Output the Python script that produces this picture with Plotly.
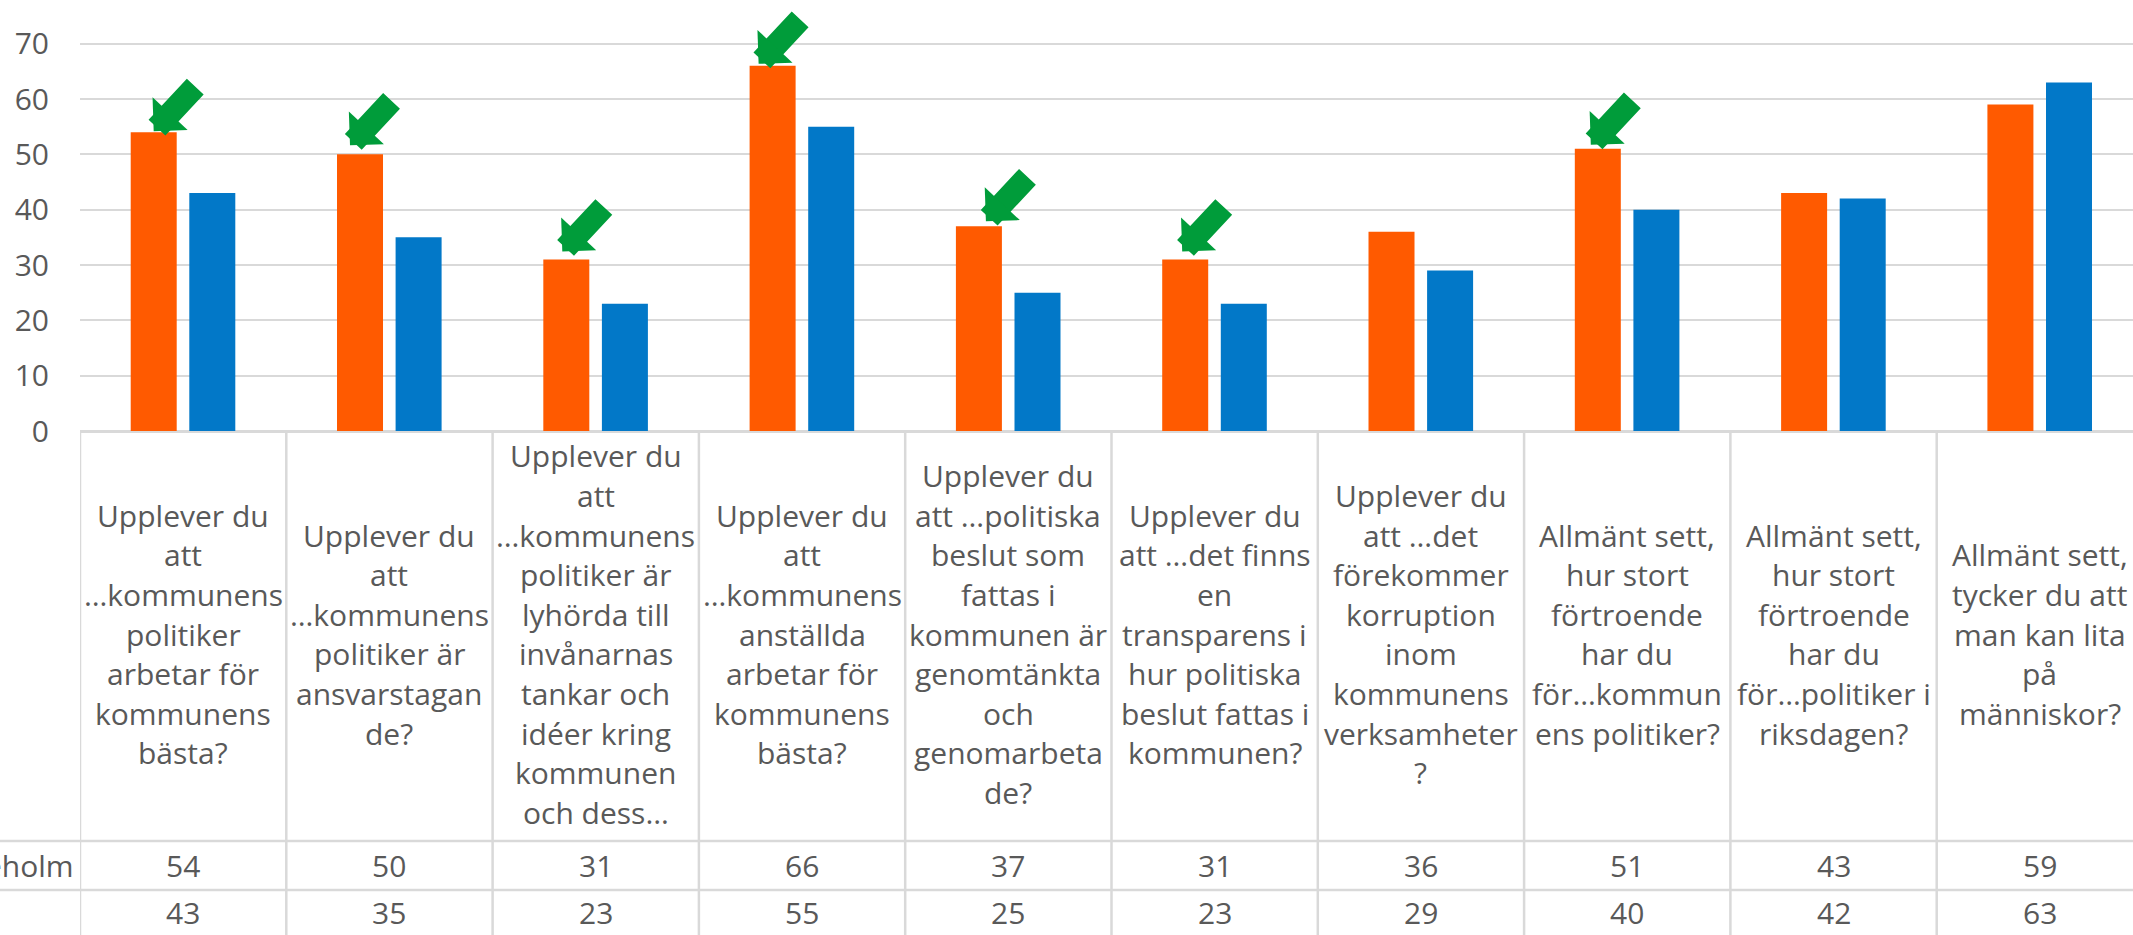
import plotly.graph_objects as go

# ---------------- data ----------------
category_labels = [
    "Upplever du<br>att<br>…kommunens<br>politiker<br>arbetar för<br>kommunens<br>bästa?",
    "Upplever du<br>att<br>…kommunens<br>politiker är<br>ansvarstagan<br>de?",
    "Upplever du<br>att<br>…kommunens<br>politiker är<br>lyhörda till<br>invånarnas<br>tankar och<br>idéer kring<br>kommunen<br>och dess…",
    "Upplever du<br>att<br>…kommunens<br>anställda<br>arbetar för<br>kommunens<br>bästa?",
    "Upplever du<br>att …politiska<br>beslut som<br>fattas i<br>kommunen är<br>genomtänkta<br>och<br>genomarbeta<br>de?",
    "Upplever du<br>att …det finns<br>en<br>transparens i<br>hur politiska<br>beslut fattas i<br>kommunen?",
    "Upplever du<br>att …det<br>förekommer<br>korruption<br>inom<br>kommunens<br>verksamheter<br>?",
    "Allmänt sett,<br>hur stort<br>förtroende<br>har du<br>för…kommun<br>ens politiker?",
    "Allmänt sett,<br>hur stort<br>förtroende<br>har du<br>för…politiker i<br>riksdagen?",
    "Allmänt sett,<br>tycker du att<br>man kan lita<br>på<br>människor?",
]
series_names = ["eholm", ""]
values_local = [54, 50, 31, 66, 37, 31, 36, 51, 43, 59]
values_other = [43, 35, 23, 55, 25, 23, 29, 40, 42, 63]
highlighted = [0, 1, 2, 3, 4, 5, 7]          # categories marked with a green arrow
y_ticks = [0, 10, 20, 30, 40, 50, 60, 70]

# ---------------- styles / geometry ----------------
W, H = 2133, 935
PLOT_L = 80          # px, left edge of plot area
PLOT_B = 431         # px, y of the zero line
CAT_W = 206.3        # px per category
PX_PER_UNIT = 5.533  # px per value unit
ORANGE = "#FF5A00"
BLUE = "#0278C8"
GREEN = "#009C3A"
GRID = "#D9D9D9"
TXT = "#595959"
FONT = "Open Sans"
FS = 30
LINE_H = 39.6
BAR_W = 0.223
OFF_A = -0.2542
OFF_B = 0.0298
LABEL_CENTER = 634
ROW_Y = [865, 912]
ROW_LINES = [841, 890]
NAME_RIGHT = 76
# per-arrow pixel placement of the tip relative to the bar's top-left corner
arrow_tip_shift = [(23, 1), (13, 9), (19, 8), (9, 2), (30, 5), (20, 8), (16, 4)]


def py2paper(py):
    return (PLOT_B - py) / PLOT_B


def px2paper(px):
    return (px - PLOT_L) / (W - PLOT_L)


n = len(category_labels)
xs = list(range(n))

fig = go.Figure()
fig.add_trace(go.Bar(x=xs, y=values_local, width=BAR_W, offset=OFF_A,
                     marker=dict(color=ORANGE, line=dict(width=0)),
                     name=series_names[0]))
fig.add_trace(go.Bar(x=xs, y=values_other, width=BAR_W, offset=OFF_B,
                     marker=dict(color=BLUE, line=dict(width=0)),
                     name=series_names[1]))

shapes = []
# vertical table lines at category boundaries
for i in range(n):
    shapes.append(dict(type="line", xref="x", yref="paper",
                       x0=i - 0.5, x1=i - 0.5, y0=0, y1=py2paper(H + 10),
                       line=dict(color=GRID, width=2.5)))
# horizontal table lines
for py in ROW_LINES:
    shapes.append(dict(type="line", xref="paper", yref="paper",
                       x0=px2paper(-10), x1=px2paper(W + 10),
                       y0=py2paper(py), y1=py2paper(py),
                       line=dict(color=GRID, width=2.5)))

annotations = []
# category labels (line by line)
for i, lab in enumerate(category_labels):
    lines = lab.split("<br>")
    m = len(lines)
    for k, line in enumerate(lines):
        py = LABEL_CENTER + (k - (m - 1) / 2) * LINE_H
        annotations.append(dict(x=i, xref="x", y=py2paper(py), yref="paper",
                                text=line, showarrow=False, xanchor="center",
                                yanchor="middle",
                                font=dict(family=FONT, size=FS, color=TXT)))
# table values
for r, vals in enumerate([values_local, values_other]):
    for i, v in enumerate(vals):
        annotations.append(dict(x=i, xref="x", y=py2paper(ROW_Y[r]), yref="paper",
                                text=str(v), showarrow=False, xanchor="center",
                                yanchor="middle",
                                font=dict(family=FONT, size=FS, color=TXT)))
    if series_names[r]:
        annotations.append(dict(x=px2paper(NAME_RIGHT), xref="paper", y=py2paper(ROW_Y[r]),
                                yref="paper", text=series_names[r], showarrow=False,
                                xanchor="right", yanchor="middle",
                                font=dict(family=FONT, size=FS, color=TXT)))
# green arrows
for idx, i in enumerate(highlighted):
    dx, dy = arrow_tip_shift[idx]
    annotations.append(dict(x=i + OFF_A, xref="x", y=values_local[i], yref="y",
                            xshift=dx, yshift=dy, text="", showarrow=True,
                            ax=42, ay=-45, arrowhead=1, arrowwidth=23,
                            arrowsize=8 / 23, arrowcolor=GREEN, standoff=0,
                            font=dict(size=1), borderpad=0))

fig.update_layout(
    width=W, height=H,
    margin=dict(l=PLOT_L, r=0, t=0, b=H - PLOT_B, pad=0, autoexpand=False),
    paper_bgcolor="white", plot_bgcolor="white",
    barmode="overlay", showlegend=False,
    font=dict(family=FONT, size=FS, color=TXT),
    xaxis=dict(range=[-0.5, -0.5 + (W - PLOT_L) / CAT_W], showticklabels=False,
               showgrid=False, zeroline=False, showline=False, ticks="",
               fixedrange=True),
    yaxis=dict(range=[0, PLOT_B / PX_PER_UNIT], tickvals=y_ticks,
               showgrid=True, gridcolor=GRID, gridwidth=2,
               zeroline=True, zerolinecolor=GRID, zerolinewidth=2.5,
               showline=False, ticks="", ticklabelstandoff=30, automargin=False,
               tickfont=dict(family=FONT, size=FS, color=TXT), fixedrange=True),
    shapes=shapes, annotations=annotations,
    hovermode=False,
)

fig.write_html("out.html", config={"displayModeBar": False},
               post_script="document.body.style.margin='0';document.body.style.overflow='hidden';")
